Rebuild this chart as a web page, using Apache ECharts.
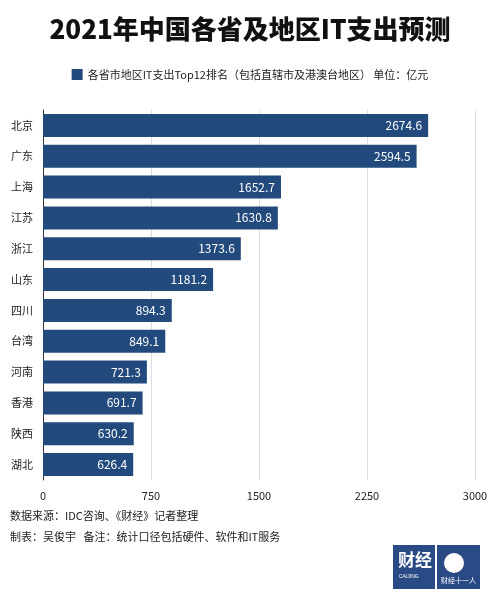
<!DOCTYPE html>
<html><head><meta charset="utf-8">
<script src="https://cdn.jsdelivr.net/npm/echarts@6/dist/echarts.min.js"></script>
<style>html,body{margin:0;padding:0;background:#fff}#c{width:500px;height:595px}</style>
</head><body><div id="c"></div>
<script>
const categories = ['北京','广东','上海','江苏','浙江','山东','四川','台湾','河南','香港','陕西','湖北'];
const values = [2674.6,2594.5,1652.7,1630.8,1373.6,1181.2,894.3,849.1,721.3,691.7,630.2,626.4];
const seriesName = '各省市地区IT支出Top12排名（包括直辖市及港澳台地区） 单位：亿元';
const ff = '"Noto Sans CJK SC", sans-serif';
const chart = echarts.init(document.getElementById('c'));
chart.setOption({
  animation:false,
  title:{text:'2021年中国各省及地区IT支出预测',left:'center',top:11,textStyle:{fontFamily:ff,fontSize:26,fontWeight:900,color:'#111'}},
  legend:{top:64,left:'center',itemWidth:11,itemHeight:11,icon:'rect',textStyle:{fontFamily:ff,fontSize:11,color:'#222'},data:[seriesName]},
  grid:{left:43,right:25,top:110,bottom:115},
  xAxis:{type:'value',min:0,max:3000,interval:750,
    axisLabel:{fontFamily:ff,fontSize:11,color:'#222',margin:10,formatter:v=>String(v)},
    splitLine:{lineStyle:{color:'#ddd'}},axisLine:{show:false},axisTick:{show:false}},
  yAxis:{type:'category',inverse:true,data:categories,
    axisLabel:{fontFamily:ff,fontSize:11,color:'#222',margin:10},
    axisLine:{show:true,lineStyle:{color:'#333'}},axisTick:{show:false}},
  series:[{name:seriesName,type:'bar',data:values,barWidth:23,
    itemStyle:{color:'#234a7d'},
    label:{show:true,position:'insideRight',color:'#fff',fontFamily:ff,fontSize:12,distance:6}}],
  graphic:[
    {type:'text',left:10,top:510,style:{text:'数据来源：IDC咨询、《财经》记者整理',font:'11px '+ff,fill:'#222'}},
    {type:'text',left:10,top:531,style:{text:'制表：吴俊宇   备注：统计口径包括硬件、软件和IT服务',font:'11px '+ff,fill:'#222'}},
    {type:'rect',left:393,top:545,shape:{width:42,height:44},style:{fill:'#2a4a86'}},
    {type:'text',left:398,top:551,style:{text:'财经',font:'bold 17px '+ff,fill:'#fff'}},
    {type:'text',left:399,top:574,style:{text:'CAIJING',font:'5px sans-serif',fill:'#fff'}},
    {type:'rect',left:437,top:545,shape:{width:43,height:44},style:{fill:'#2a4a86'}},
    {type:'circle',shape:{cx:454,cy:563,r:10},style:{fill:'#fff'}},
    {type:'text',left:441,top:577,style:{text:'财经十一人',font:'7px '+ff,fill:'#fff'}}
  ]
});
</script></body></html>
